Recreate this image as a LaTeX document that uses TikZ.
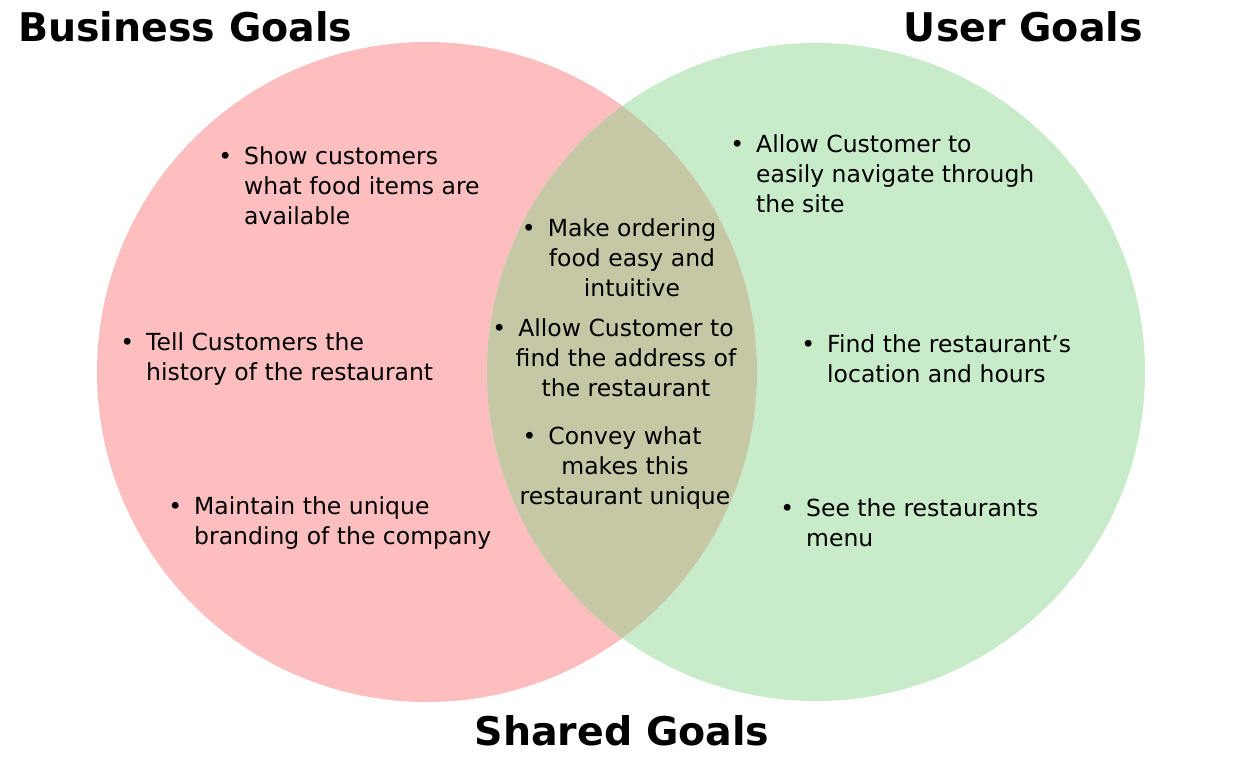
\documentclass[tikz,border=0pt]{standalone}
\usepackage{fontspec}
\setmainfont{DejaVu Sans}
\usetikzlibrary{positioning}
\definecolor{cpink}{HTML}{FCBEBE}
\definecolor{cmint}{HTML}{C8EBC9}
\definecolor{colive}{HTML}{C6C8A5}
\newcommand{\gbul}{\llap{\textbullet\hspace{12pt}}}
\tikzset{
  goal/.style={font=\fontsize{23.5}{30}\selectfont, align=left, inner sep=0pt, anchor=west},
  shared/.style={goal, align=center, anchor=center},
  heading/.style={font=\fontsize{39.5}{46}\selectfont\bfseries, inner sep=0pt},
}

\begin{document}
\begin{tikzpicture}[x=1pt, y=-1pt]
  \useasboundingbox (0,0) rectangle (1243,764);
  % ---------- circles ----------
  \fill[cpink] (427,372) circle (330pt);
  \fill[cmint] (816,372) circle (329pt);
  \begin{scope}
    \clip (427,372) circle (330pt);
    \fill[colive] (816,372) circle (329pt);
  \end{scope}
  % ---------- headings ----------
  \node[heading, anchor=west] (bizT) at (18,27) {Business Goals};
  \node[heading, anchor=east] (usrT) at (1143,27) {User Goals};
  \node[heading] (shrT) at (622,731) {Shared Goals};
  % ---------- business goals ----------
  \foreach \x/\y/\t [count=\i] in {244/186/{\gbul Show customers\\what food items are\\available},
      146/359/{\gbul Tell Customers the\\history of the restaurant},
      194/523/{\gbul Maintain the unique\\branding of the company}} {
    \node[goal] (biz\i) at (\x,\y) {\t};
  }
  % ---------- shared goals ----------
  \foreach \x/\y/\t [count=\i] in {632/258/{\gbul Make ordering\\food easy and\\intuitive},
      626/358/{\gbul Allow Customer to\\find the address of\\the restaurant},
      625/468/{\gbul Convey what\\makes this\\restaurant unique}} {
    \node[shared] (shr\i) at (\x,\y) {\t};
  }
  % ---------- user goals ----------
  \foreach \x/\y/\t [count=\i] in {756/174/{\gbul Allow Customer to\\easily navigate through\\the site},
      827/359/{\gbul Find the restaurant’s\\location and hours},
      806/523/{\gbul See the restaurants\\menu}} {
    \node[goal] (usr\i) at (\x,\y) {\t};
  }
\end{tikzpicture}
\end{document}
